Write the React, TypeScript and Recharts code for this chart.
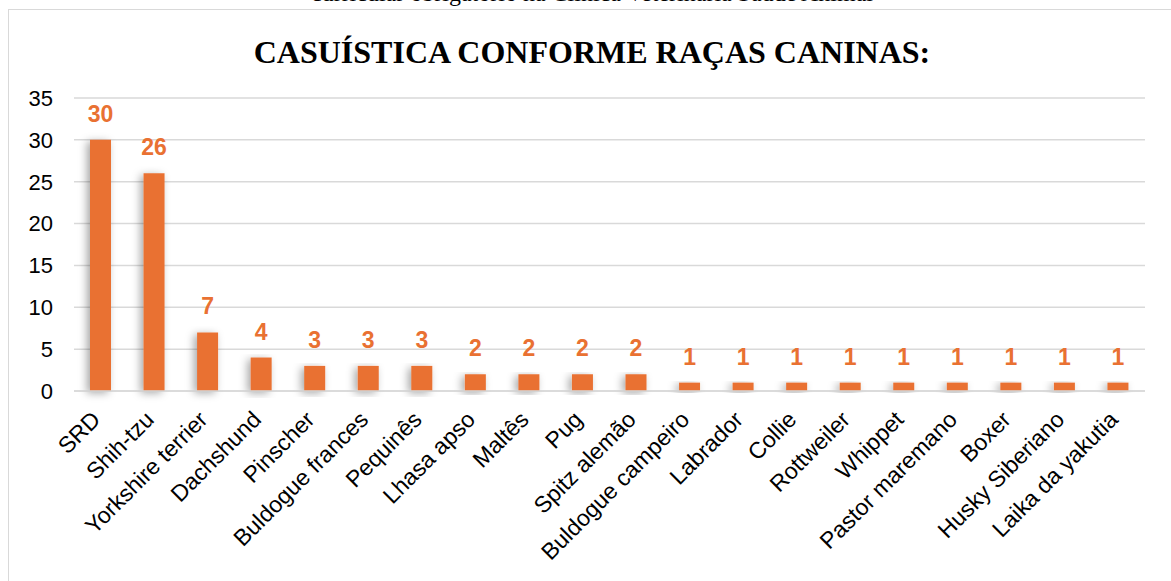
import React from "react"
import { BarChart, Bar, XAxis, YAxis, CartesianGrid, LabelList } from "recharts"

const breeds = [
  "SRD",
  "Shih-tzu",
  "Yorkshire terrier",
  "Dachshund",
  "Pinscher",
  "Buldogue frances",
  "Pequinês",
  "Lhasa apso",
  "Maltês",
  "Pug",
  "Spitz alemão",
  "Buldogue campeiro",
  "Labrador",
  "Collie",
  "Rottweiler",
  "Whippet",
  "Pastor maremano",
  "Boxer",
  "Husky Siberiano",
  "Laika da yakutia",
]

const cases = [30, 26, 7, 4, 3, 3, 3, 2, 2, 2, 2, 1, 1, 1, 1, 1, 1, 1, 1, 1]

const yTicks = [0, 5, 10, 15, 20, 25, 30, 35]

const chartData = breeds.map((breed, i) => ({ breed, casos: cases[i] }))

const ORANGE = "#E97132"
const SANS = "'Liberation Sans', Arial, sans-serif"
const SERIF = "'Liberation Serif', 'Times New Roman', serif"

function BreedTick({ x, y, payload }: any) {
  return (
    <text
      transform={`translate(${x + 1},${y + 22}) rotate(-45)`}
      textAnchor="end"
      fontSize={23}
      fontFamily={SANS}
      fill="#000"
    >
      {payload.value}
    </text>
  )
}

export default function App() {
  return (
    <div
      style={{
        position: "absolute",
        left: 0,
        top: 0,
        width: 1171,
        height: 581,
        overflow: "hidden",
        background: "#fff",
      }}
    >
      {/* caption of the page above, cut by the crop */}
      <div
        style={{
          position: "absolute",
          left: 0,
          top: -19,
          width: 1184,
          textAlign: "center",
          fontFamily: SERIF,
          fontSize: 24,
          lineHeight: "24px",
          color: "#000",
        }}
      >
        curricular obrigatório na Clínica Veterinária Saúde Animal
      </div>
      <div
        style={{
          position: "absolute",
          left: 8,
          top: 9,
          width: 1200,
          height: 620,
          border: "1.5px solid #d9d9d9",
        }}
      />
      <div
        style={{
          position: "absolute",
          left: 0,
          top: 32,
          width: 1184,
          textAlign: "center",
          fontFamily: SERIF,
          fontWeight: "bold",
          fontSize: 32,
          lineHeight: "40px",
          color: "#000",
        }}
      >
        CASUÍSTICA CONFORME RAÇAS CANINAS:
      </div>
      <div style={{ position: "absolute", left: 0, top: 0 }}>
        <BarChart
          width={1171}
          height={581}
          data={chartData}
          margin={{ top: 98, right: 26, bottom: 40, left: 0 }}
          barSize={21}
        >
          <defs>
            <filter id="barShadow" x="-80%" y="-10%" width="220%" height="130%">
              <feDropShadow dx={-3} dy={2} stdDeviation={4} floodColor="#000" floodOpacity={0.35} />
            </filter>
          </defs>
          <CartesianGrid vertical={false} stroke="#d9d9d9" strokeWidth={1.5} />
          <XAxis
            dataKey="breed"
            interval={0}
            height={150}
            tickLine={false}
            axisLine={{ stroke: "#d9d9d9", strokeWidth: 1.5 }}
            tick={<BreedTick />}
          />
          <YAxis
            width={74}
            domain={[0, 35]}
            ticks={yTicks}
            tickLine={false}
            axisLine={false}
            tickMargin={15}
            tick={{ fontSize: 22, fontFamily: SANS, fill: "#000" }}
          />
          <Bar dataKey="casos" fill={ORANGE} isAnimationActive={false} filter="url(#barShadow)">
            <LabelList
              dataKey="casos"
              position="top"
              offset={18}
              fill={ORANGE}
              fontSize={23}
              fontWeight="bold"
              fontFamily={SANS}
            />
          </Bar>
        </BarChart>
      </div>
    </div>
  )
}
